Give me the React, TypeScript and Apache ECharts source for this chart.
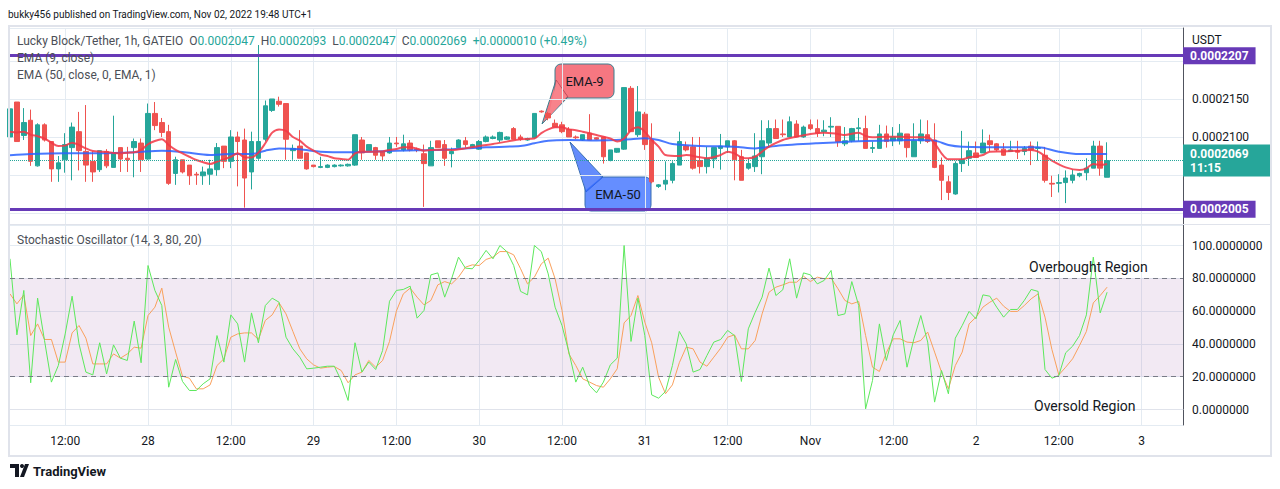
import React, { useEffect, useRef } from "react";
import * as echarts from "echarts";

// ---------- data (prices in units of 1e-7 USDT) ----------
const PRICE_SCALE = 1e7;
const START_HOUR = 4; // first candle: Oct 27, 04:00 (hours counted from Oct 27 00:00)
const AXIS_END_HOUR = 174;

const OPEN = [
  2100, 2146, 2102, 2122, 2062, 2116, 2094, 2058, 2070, 2086,
  2107, 2081, 2068, 2057, 2081, 2060, 2086, 2072, 2086, 2092,
  2071, 2131, 2119, 2107, 2052, 2070, 2063, 2051, 2049, 2051,
  2057, 2088, 2068, 2100, 2096, 2054, 2072, 2097, 2135, 2147,
  2144, 2082, 2088, 2079, 2063, 2060, 2060, 2061, 2062, 2062,
  2063, 2096, 2082, 2086, 2081, 2079, 2092, 2083, 2092, 2084,
  2078, 2062, 2095, 2090, 2078, 2086, 2095, 2087, 2084, 2094,
  2098, 2096, 2097, 2111, 2100, 2096, 2099, 2134, 2131, 2118,
  2116, 2110, 2100, 2096, 2105, 2099, 2100, 2069, 2080, 2084,
  2164, 2103, 2130, 2096, 2035, 2038, 2043, 2063, 2088, 2087,
  2069, 2061, 2071, 2085, 2087, 2095, 2074, 2059, 2061, 2074,
  2092, 2111, 2104, 2100, 2117, 2100, 2116, 2111, 2107, 2113,
  2114, 2091, 2095, 2111, 2111, 2085, 2085, 2104, 2095, 2095,
  2104, 2074, 2095, 2103, 2096, 2063, 2041, 2025, 2065, 2072,
  2079, 2079, 2095, 2091, 2084, 2081, 2082, 2081, 2088, 2085,
  2076, 2039, 2039, 2040, 2043, 2049, 2053, 2059, 2088, 2047,
];
const HIGH = [
  2146, 2146, 2138, 2136, 2118, 2118, 2094, 2075, 2105, 2119,
  2133, 2142, 2081, 2082, 2084, 2128, 2086, 2087, 2098, 2098,
  2144, 2146, 2125, 2116, 2074, 2070, 2063, 2054, 2061, 2070,
  2092, 2088, 2109, 2107, 2111, 2107, 2221, 2148, 2150, 2153,
  2144, 2090, 2109, 2079, 2063, 2074, 2064, 2064, 2064, 2065,
  2103, 2100, 2090, 2087, 2081, 2100, 2100, 2103, 2096, 2086,
  2090, 2095, 2095, 2096, 2086, 2097, 2100, 2091, 2096, 2102,
  2102, 2107, 2101, 2113, 2103, 2099, 2131, 2135, 2133, 2123,
  2120, 2113, 2102, 2103, 2130, 2100, 2100, 2083, 2085, 2165,
  2167, 2167, 2133, 2118, 2038, 2068, 2068, 2107, 2094, 2100,
  2100, 2087, 2086, 2104, 2095, 2096, 2083, 2072, 2105, 2122,
  2122, 2123, 2123, 2127, 2122, 2115, 2123, 2123, 2122, 2126,
  2114, 2113, 2112, 2125, 2128, 2094, 2116, 2115, 2113, 2117,
  2104, 2118, 2123, 2122, 2118, 2073, 2049, 2068, 2108, 2094,
  2094, 2110, 2103, 2092, 2092, 2095, 2095, 2088, 2094, 2094,
  2087, 2049, 2051, 2056, 2057, 2053, 2072, 2095, 2095, 2093,
];
const LOW = [
  2099, 2094, 2096, 2062, 2061, 2094, 2041, 2041, 2053, 2043,
  2056, 2041, 2041, 2054, 2059, 2060, 2054, 2054, 2047, 2054,
  2070, 2109, 2100, 2037, 2037, 2052, 2037, 2037, 2037, 2037,
  2049, 2059, 2059, 2035, 2007, 2031, 2070, 2094, 2133, 2140,
  2070, 2070, 2072, 2057, 2060, 2059, 2059, 2060, 2061, 2061,
  2062, 2070, 2082, 2070, 2068, 2078, 2087, 2081, 2081, 2080,
  2008, 2062, 2086, 2062, 2060, 2085, 2086, 2086, 2083, 2093,
  2097, 2093, 2096, 2097, 2095, 2095, 2098, 2132, 2122, 2113,
  2105, 2100, 2097, 2095, 2096, 2096, 2065, 2068, 2079, 2083,
  2107, 2100, 2083, 2039, 2033, 2030, 2039, 2063, 2081, 2057,
  2052, 2052, 2059, 2057, 2079, 2043, 2043, 2057, 2054, 2051,
  2087, 2098, 2100, 2100, 2100, 2099, 2109, 2100, 2101, 2100,
  2087, 2088, 2093, 2095, 2085, 2079, 2085, 2086, 2088, 2090,
  2073, 2074, 2091, 2092, 2059, 2017, 2017, 2024, 2054, 2062,
  2073, 2079, 2081, 2081, 2075, 2081, 2071, 2076, 2063, 2069,
  2040, 2021, 2027, 2013, 2039, 2047, 2043, 2059, 2049, 2047,
];
const CLOSE = [
  2137, 2094, 2119, 2068, 2116, 2096, 2058, 2066, 2090, 2113,
  2082, 2063, 2054, 2082, 2062, 2079, 2071, 2070, 2094, 2070,
  2131, 2115, 2106, 2039, 2070, 2054, 2049, 2050, 2054, 2058,
  2086, 2068, 2100, 2094, 2046, 2094, 2094, 2141, 2150, 2143,
  2097, 2085, 2072, 2058, 2061, 2061, 2063, 2063, 2063, 2064,
  2103, 2079, 2090, 2076, 2075, 2092, 2091, 2091, 2083, 2083,
  2065, 2086, 2086, 2072, 2081, 2096, 2090, 2090, 2094, 2100,
  2100, 2106, 2100, 2097, 2097, 2098, 2131, 2133, 2125, 2113,
  2107, 2100, 2099, 2103, 2096, 2097, 2074, 2083, 2085, 2165,
  2107, 2133, 2090, 2041, 2037, 2043, 2065, 2094, 2083, 2059,
  2061, 2072, 2086, 2088, 2095, 2070, 2043, 2065, 2075, 2095,
  2111, 2098, 2103, 2120, 2100, 2113, 2111, 2105, 2109, 2114,
  2094, 2095, 2111, 2112, 2085, 2086, 2104, 2094, 2100, 2105,
  2086, 2095, 2104, 2094, 2060, 2043, 2027, 2065, 2070, 2082,
  2073, 2092, 2090, 2083, 2076, 2083, 2080, 2085, 2083, 2086,
  2043, 2038, 2040, 2046, 2050, 2052, 2059, 2088, 2059, 2069,
];

// EMA values: [hour, price]
const EMA9_POINTS: [number, number][] = [
  [4, 2107], [5, 2106], [6, 2107], [7, 2103], [8, 2101], [9, 2098], [10, 2092.5], [11, 2088],
  [12, 2088.6], [13, 2092.5], [14, 2089.5], [15, 2085], [16, 2081.6], [17, 2080.7], [18, 2080.3],
  [19, 2079], [20, 2078.5], [21, 2079.4], [22, 2079.8], [23, 2083], [24, 2090.4], [25, 2094.7],
  [26, 2097], [27, 2089.5], [28, 2083], [29, 2078.5], [30, 2074], [31, 2069.7], [32, 2066.7],
  [33, 2064.5], [34, 2067.5], [35, 2070.6], [36, 2074], [37, 2078.5], [38, 2073], [39, 2073],
  [40, 2079.4], [41, 2091.7], [42, 2105.7], [43, 2110], [44, 2108], [45, 2100], [46, 2095.2],
  [47, 2087.3], [48, 2082], [49, 2077], [50, 2075], [51, 2072], [52, 2071], [53, 2070.2],
  [54, 2078.5], [55, 2080.7], [56, 2080.5], [57, 2080.7], [58, 2081], [59, 2083], [60, 2084.2],
  [61, 2086.4], [62, 2086.5], [63, 2084.5], [64, 2082], [65, 2083], [66, 2083.3], [68, 2082.9],
  [70, 2085], [72, 2088.2], [74, 2090.8], [76, 2093.9], [78, 2097], [80, 2098], [81, 2105],
  [82, 2110], [83, 2112.7], [84, 2112.7], [85, 2110], [86, 2109], [87, 2107], [89, 2102.6],
  [91, 2098], [92, 2093.9], [93, 2098], [94, 2109], [95, 2112.7], [96, 2107], [97, 2096],
  [98, 2087.3], [99, 2076.3], [101, 2075], [102, 2076.3], [104, 2073.2], [105, 2072],
  [107, 2076.3], [108, 2080.7], [109, 2078.5], [110, 2073.2], [111, 2072], [112, 2074],
  [113, 2080.7], [114, 2087.3], [116, 2096], [118, 2100.4], [120, 2104], [122, 2105.7],
  [124, 2104], [125, 2102.6], [127, 2105.7], [128, 2101.3], [129, 2099.6], [131, 2100.4],
  [133, 2100.4], [135, 2099.6], [137, 2099.6], [138, 2091.7], [139, 2078.5], [140, 2070.6],
  [142, 2070.6], [143, 2073.2], [145, 2076.3], [146, 2080.7], [148, 2081], [150, 2082],
  [152, 2082.9], [153, 2080.7], [155, 2068.9], [157, 2060], [159, 2056.6], [160, 2058.8],
  [161, 2064.5], [162, 2063.2], [163, 2064.5],
];
const EMA50_POINTS: [number, number][] = [
  [4, 2076], [7, 2077.6], [12, 2078.5], [17, 2078.5], [22, 2079.8], [26, 2082], [29, 2080.3],
  [33, 2076.3], [36, 2077.6], [39, 2077.6], [41, 2082], [43, 2085], [46, 2083.8], [49, 2080.7],
  [53, 2079.8], [56, 2080.7], [60, 2082], [66, 2083], [68, 2083.8], [73, 2086.4], [78, 2088.2],
  [80, 2091.7], [82, 2095.2], [85, 2096], [89, 2095.5], [94, 2097], [96, 2098.2], [98, 2096],
  [100, 2090.8], [104, 2088.2], [109, 2087.3], [112, 2085], [115, 2088.2], [121, 2091.7],
  [126, 2093.9], [130, 2095.2], [135, 2096], [138, 2095.2], [140, 2089.5], [142, 2087.3],
  [149, 2086.4], [153, 2086.4], [156, 2080.7], [159, 2077.6], [163, 2077.6],
];

// Stochastic (14, 3) — %K and %D per candle
const STOCH_K = [
  91.9, 45.5, 72.6, 16.3, 67.9, 42.1, 16.7, 26.8, 46.1, 69.1,
  40, 22.8, 21.1, 40.7, 21.7, 39.4, 31.3, 29.9, 53.9, 28.5,
  87.8, 72.6, 63.4, 13.6, 30.5, 17.1, 11.6, 11.6, 15.7, 18.7,
  45.1, 28.9, 57.7, 52.2, 28.9, 58.9, 40.7, 63.4, 67.9, 65.4,
  44.1, 37, 31.9, 24.8, 25.2, 25.8, 26.4, 26.4, 17.7, 5.5,
  40.7, 22.8, 28.9, 24.4, 36, 66, 72.6, 73.2, 75.2, 55.7,
  60.4, 82.1, 83.3, 68.5, 79.7, 92.9, 86.2, 85.8, 90.9, 97,
  91.9, 100, 96.3, 87.8, 72, 69.9, 100, 96.3, 82.7, 62.4,
  51.2, 35, 16.7, 25.8, 14.6, 10.2, 16.7, 27.2, 31.3, 100,
  41.5, 67.9, 45.1, 8.9, 6.9, 11, 26.8, 47.6, 40, 22.8,
  24.4, 32.9, 41.1, 42.7, 48.2, 45.1, 17.1, 49.2, 59.3, 68.5,
  86.2, 69.5, 73, 91.9, 67.9, 83.3, 82.1, 76.6, 78.7, 84.8,
  57.3, 58.3, 78, 63.4, 0.4, 17.7, 52.2, 29.9, 45.5, 54.3,
  25.8, 43.1, 57.3, 41.1, 4.5, 23.8, 9.6, 43.5, 51.2, 59.8,
  55.3, 69.9, 69.1, 62.4, 56.3, 61, 61, 66.5, 73.2, 72,
  24.4, 19.1, 20.7, 34.6, 38.6, 45.1, 57.7, 92.9, 58.9, 71.5,
];
const STOCH_D = [
  70.5, 64.4, 69.9, 45.1, 52.2, 42.7, 42.7, 28.9, 28.9, 46.7,
  51.2, 43.5, 27.8, 27.8, 27.8, 33.9, 31.3, 33.9, 38, 37.4,
  57.3, 62.4, 74, 50.2, 35, 20.3, 19.1, 12.6, 12.6, 15,
  26.8, 30.9, 44.1, 46.1, 46.7, 46.7, 42.7, 54.3, 57.7, 65,
  58.3, 47.6, 37, 30.9, 27.2, 25.2, 25.8, 26.2, 23.8, 16.3,
  21.1, 22.8, 29.9, 25.8, 29.9, 41.5, 60, 70.5, 74, 68.5,
  63.8, 66.5, 76, 78, 76.6, 80.7, 86.8, 88.2, 87.8, 91.5,
  92.9, 96.3, 96.3, 94.3, 85.8, 76.6, 80.7, 88.8, 92.3, 79.7,
  60.4, 33.9, 26.8, 18.7, 16.7, 14.6, 13.6, 18.7, 24.8, 52.8,
  57.3, 69.5, 53.3, 40.7, 19.7, 9.6, 15, 28.5, 38, 37,
  28.9, 26.4, 31.9, 37.4, 44.1, 45.5, 37, 37, 42.1, 58.3,
  71.5, 74.6, 76, 77.6, 77.6, 81.3, 78, 80.7, 79.7, 80.1,
  73.6, 66.5, 64.4, 65.9, 45.1, 25.8, 23.2, 34.6, 43.1, 43.1,
  41.1, 40.7, 42.1, 47.2, 35, 22.8, 12.6, 26.8, 35, 52.2,
  56.3, 62.4, 65.4, 67.9, 63, 59.8, 59.8, 63.4, 67.5, 70.5,
  56.3, 36.6, 21.1, 25.8, 30.9, 39, 47.6, 65, 69.5, 74.6,
];

const LEVEL_TOP = 2207;
const LEVEL_BOTTOM = 2005;
const OVERBOUGHT = 80;
const OVERSOLD = 20;
const COUNTDOWN = "11:15";
const DAY_LABELS: Record<number, string> = { 24: "28", 48: "29", 72: "30", 96: "31", 120: "Nov", 144: "2", 168: "3" };
const HALF_DAY_LABEL = "12:00";

// ---------- styling ----------
const FONT = 'Roboto, "Noto Sans", sans-serif';
const TEXT = "#131722";
const SUBTEXT = "#4c4f57";
const GRID = "#e4ebf2";
const UP = "#26a69a";
const DOWN = "#ef5350";
const PURPLE = "#673ab7";

const fmtPrice = (v: number) => (v / PRICE_SCALE).toFixed(7);

export default function App() {
  const ref = useRef<HTMLDivElement>(null);

  useEffect(() => {
    if (!ref.current) return;
    const chart = echarts.init(ref.current, undefined, { renderer: "svg" });

    const categories: string[] = [];
    for (let h = START_HOUR; h <= AXIS_END_HOUR; h++) categories.push(String(h));
    const isTick = (idx: number) => (idx + START_HOUR) % 12 === 0;
    const tickLabel = (val: string) => {
      const h = Number(val);
      return h % 24 === 12 ? HALF_DAY_LABEL : DAY_LABELS[h] || "";
    };

    const candles = OPEN.map((o, i) => [o, CLOSE[i], LOW[i], HIGH[i]]);
    const last = OPEN.length - 1;
    const lastClose = CLOSE[last];
    const change = lastClose - CLOSE[last - 1];
    const changePct = (change / CLOSE[last - 1]) * 100;

    // price-axis labels that sit under the marker labels are covered in the original
    const covered = (v: number) =>
      Math.abs(v - LEVEL_TOP) < 13 || Math.abs(v - LEVEL_BOTTOM) < 13 || Math.abs(v - lastClose) < 24;

    const grids = [
      { left: 10, right: 97, top: 28, height: 196 },
      { left: 10, right: 97, top: 225, height: 200 },
    ];

    const xAxisBase = (gridIndex: number, showLabels: boolean) => ({
      type: "category" as const,
      gridIndex,
      data: categories,
      boundaryGap: false,
      axisTick: { show: false },
      axisLine: { show: showLabels, lineStyle: { color: "#e0e3eb" } },
      axisLabel: {
        show: showLabels,
        interval: (idx: number) => isTick(idx),
        formatter: (val: string) => tickLabel(val),
        color: TEXT,
        fontFamily: FONT,
        fontSize: 12,
        margin: 10,
      },
      splitLine: { show: true, interval: (idx: number) => isTick(idx), lineStyle: { color: GRID } },
    });

    const sign = change >= 0 ? "+" : "";
    const legendText =
      `{g|Lucky Block/Tether, 1h, GATEIO  O}{t|${fmtPrice(OPEN[last])}}` +
      `{g|  H}{t|${fmtPrice(HIGH[last])}}{g|  L}{t|${fmtPrice(LOW[last])}}` +
      `{g|  C}{t|${fmtPrice(lastClose)}}` +
      `{t|  ${sign}${fmtPrice(change)} (${sign}${changePct.toFixed(2)}%)}`;

    const txt = (text: string, x: number, y: number, size: number, color = TEXT, extra: any = {}) => ({
      type: "text",
      silent: true,
      z: 50,
      style: {
        text, x, y, fill: color, fontSize: size, fontFamily: FONT,
        verticalAlign: "middle", textVerticalAlign: "middle", ...extra,
      },
    });

    const markerLabel = (text: string, bg: string, extra: any = {}) => ({
      show: true, position: "end", distance: 0, formatter: text,
      backgroundColor: bg, color: "#fff", fontFamily: FONT, fontSize: 12, fontWeight: "bold",
      padding: [3, 7, 2, 7], ...extra,
    });

    chart.setOption({
      animation: false,
      backgroundColor: "#ffffff",
      grid: grids,
      xAxis: [xAxisBase(0, false), xAxisBase(1, true)],
      yAxis: [
        {
          type: "value",
          gridIndex: 0,
          position: "right",
          min: 1985.5,
          max: 2243.4,
          splitNumber: 5,
          axisLine: { show: true, lineStyle: { color: "#50535e" } },
          axisTick: { show: false },
          axisLabel: {
            showMinLabel: false, showMaxLabel: false,
            formatter: (v: number) => (covered(v) ? "" : fmtPrice(v)),
            color: TEXT, fontFamily: FONT, fontSize: 12, margin: 9,
          },
          splitLine: { lineStyle: { color: GRID } },
        },
        {
          type: "value",
          gridIndex: 1,
          position: "right",
          min: -9.45,
          max: 112.5,
          splitNumber: 5,
          axisLine: { show: true, lineStyle: { color: "#50535e" } },
          axisTick: { show: false },
          axisLabel: {
            showMinLabel: false, showMaxLabel: false,
            formatter: (v: number) => v.toFixed(7),
            color: TEXT, fontFamily: FONT, fontSize: 12, margin: 9,
          },
          splitLine: { lineStyle: { color: GRID } },
        },
      ],
      series: [
        {
          type: "candlestick",
          name: "Lucky Block/Tether",
          xAxisIndex: 0,
          yAxisIndex: 0,
          data: candles,
          barWidth: 5,
          clip: true,
          itemStyle: { color: UP, color0: DOWN, borderColor: UP, borderColor0: DOWN, borderWidth: 1 },
          markLine: {
            silent: true,
            symbol: ["none", "none"],
            animation: false,
            data: [
              {
                yAxis: LEVEL_TOP,
                lineStyle: { color: PURPLE, width: 3, type: "solid" },
                label: markerLabel(fmtPrice(LEVEL_TOP), PURPLE),
              },
              {
                yAxis: LEVEL_BOTTOM,
                lineStyle: { color: PURPLE, width: 3, type: "solid" },
                label: markerLabel(fmtPrice(LEVEL_BOTTOM), PURPLE),
              },
              {
                yAxis: lastClose,
                lineStyle: { color: UP, width: 1, type: "dotted" },
                label: markerLabel(`${fmtPrice(lastClose)}\n${COUNTDOWN}`, UP, {
                  lineHeight: 14, width: 74, align: "left", padding: [2, 7, 2, 7],
                }),
              },
            ],
          },
        },
        {
          type: "line",
          name: "EMA (50)",
          xAxisIndex: 0,
          yAxisIndex: 0,
          data: EMA50_POINTS.map(([h, v]) => [String(h), v]),
          showSymbol: false,
          smooth: 0.3,
          lineStyle: { color: "#2962ff", width: 2, opacity: 0.85 },
          z: 3,
        },
        {
          type: "line",
          name: "EMA (9)",
          xAxisIndex: 0,
          yAxisIndex: 0,
          data: EMA9_POINTS.map(([h, v]) => [String(h), v]),
          showSymbol: false,
          smooth: 0.3,
          lineStyle: { color: "#f23645", width: 2, opacity: 0.85 },
          z: 4,
        },
        {
          type: "line",
          name: "%D",
          xAxisIndex: 1,
          yAxisIndex: 1,
          data: STOCH_D,
          showSymbol: false,
          lineStyle: { color: "#f9a05c", width: 1 },
          z: 3,
        },
        {
          type: "line",
          name: "%K",
          xAxisIndex: 1,
          yAxisIndex: 1,
          data: STOCH_K,
          showSymbol: false,
          lineStyle: { color: "#5ce85c", width: 1 },
          z: 4,
          markArea: {
            silent: true,
            itemStyle: { color: "rgba(150, 70, 160, 0.12)" },
            data: [[{ yAxis: OVERSOLD }, { yAxis: OVERBOUGHT }]],
          },
          markLine: {
            silent: true,
            symbol: ["none", "none"],
            label: { show: false },
            lineStyle: { color: "#787b86", width: 1, type: [5, 4] },
            data: [{ yAxis: OVERBOUGHT }, { yAxis: OVERSOLD }],
          },
        },
      ],
      graphic: [
        // chart frame and pane separator
        {
          type: "rect", silent: true, z: 40,
          shape: { x: 9, y: 26, width: 1262, height: 430 },
          style: { fill: "none", stroke: "#e0e3eb", lineWidth: 2 },
        },
        {
          type: "line", silent: true, z: 40,
          shape: { x1: 9, y1: 224.5, x2: 1271, y2: 224.5 },
          style: { stroke: "#e0e3eb", lineWidth: 1 },
        },
        txt("bukky456 published on TradingView.com, Nov 02, 2022 19:48 UTC+1", 8, 14, 10),
        {
          type: "text", silent: true, z: 50,
          style: {
            text: legendText, x: 17, y: 41, verticalAlign: "middle", textVerticalAlign: "middle",
            rich: {
              g: { fill: SUBTEXT, color: SUBTEXT, fontSize: 12, fontFamily: FONT },
              t: { fill: UP, color: UP, fontSize: 12, fontFamily: FONT },
            },
          },
        },
        txt("EMA (9, close)", 17, 58, 12, SUBTEXT),
        txt("EMA (50, close, 0, EMA, 1)", 17, 75, 12, SUBTEXT),
        txt("Stochastic Oscillator (14, 3, 80, 20)", 17, 240, 12, SUBTEXT),
        txt("USDT", 1192, 40, 12),
        txt("Overbought Region", 1029, 267, 14),
        txt("Oversold Region", 1034, 406, 14),
        // EMA-9 callout
        {
          type: "group", z: 60, silent: true,
          children: [
            {
              type: "polygon",
              shape: { points: [[556, 80], [568, 97], [542, 124]] },
              style: { fill: "rgba(242, 54, 69, 0.68)", stroke: "#3b7f8f", lineWidth: 1 },
            },
            {
              type: "rect",
              shape: { x: 555, y: 64, width: 59, height: 34, r: 6 },
              style: { fill: "rgba(242, 54, 69, 0.68)", stroke: "#3b7f8f", lineWidth: 1 },
            },
            {
              type: "polygon",
              shape: { points: [[556.5, 81], [567, 96.5], [548, 118]] },
              style: { fill: "#f8838b" },
            },
            {
              type: "text",
              style: {
                text: "EMA-9", x: 584.5, y: 81, fill: TEXT, fontSize: 13, fontFamily: FONT,
                align: "center", textAlign: "center", verticalAlign: "middle", textVerticalAlign: "middle",
              },
            },
          ],
        },
        // EMA-50 callout
        {
          type: "group", z: 60, silent: true,
          children: [
            {
              type: "polygon",
              shape: { points: [[570, 142], [586, 192], [603, 177]] },
              style: { fill: "rgba(41, 98, 255, 0.72)", stroke: "#3b6fb0", lineWidth: 1 },
            },
            {
              type: "rect",
              shape: { x: 585, y: 177, width: 66, height: 34, r: 6 },
              style: { fill: "rgba(41, 98, 255, 0.72)", stroke: "#3b6fb0", lineWidth: 1 },
            },
            {
              type: "polygon",
              shape: { points: [[572, 147], [586, 190], [601, 177.5]] },
              style: { fill: "#648bfb" },
            },
            {
              type: "text",
              style: {
                text: "EMA-50", x: 618, y: 194, fill: TEXT, fontSize: 13, fontFamily: FONT,
                align: "center", textAlign: "center", verticalAlign: "middle", textVerticalAlign: "middle",
              },
            },
          ],
        },
        // TradingView logo
        {
          type: "group", silent: true, z: 50,
          children: [
            { type: "polygon", shape: { points: [[10, 464], [19, 464], [19, 477], [15, 477], [15, 468], [10, 468]] }, style: { fill: TEXT } },
            { type: "circle", shape: { cx: 22, cy: 466, r: 2 }, style: { fill: TEXT } },
            { type: "polygon", shape: { points: [[25, 464], [29, 464], [24, 477], [20, 477]] }, style: { fill: TEXT } },
          ],
        },
        txt("TradingView", 33, 471, 13, TEXT, { fontWeight: "bold" }),
      ],
    });

    return () => chart.dispose();
  }, []);

  return (
    <div
      ref={ref}
      style={{ position: "fixed", left: 0, top: 0, width: 1280, height: 489, background: "#fff" }}
    />
  );
}
